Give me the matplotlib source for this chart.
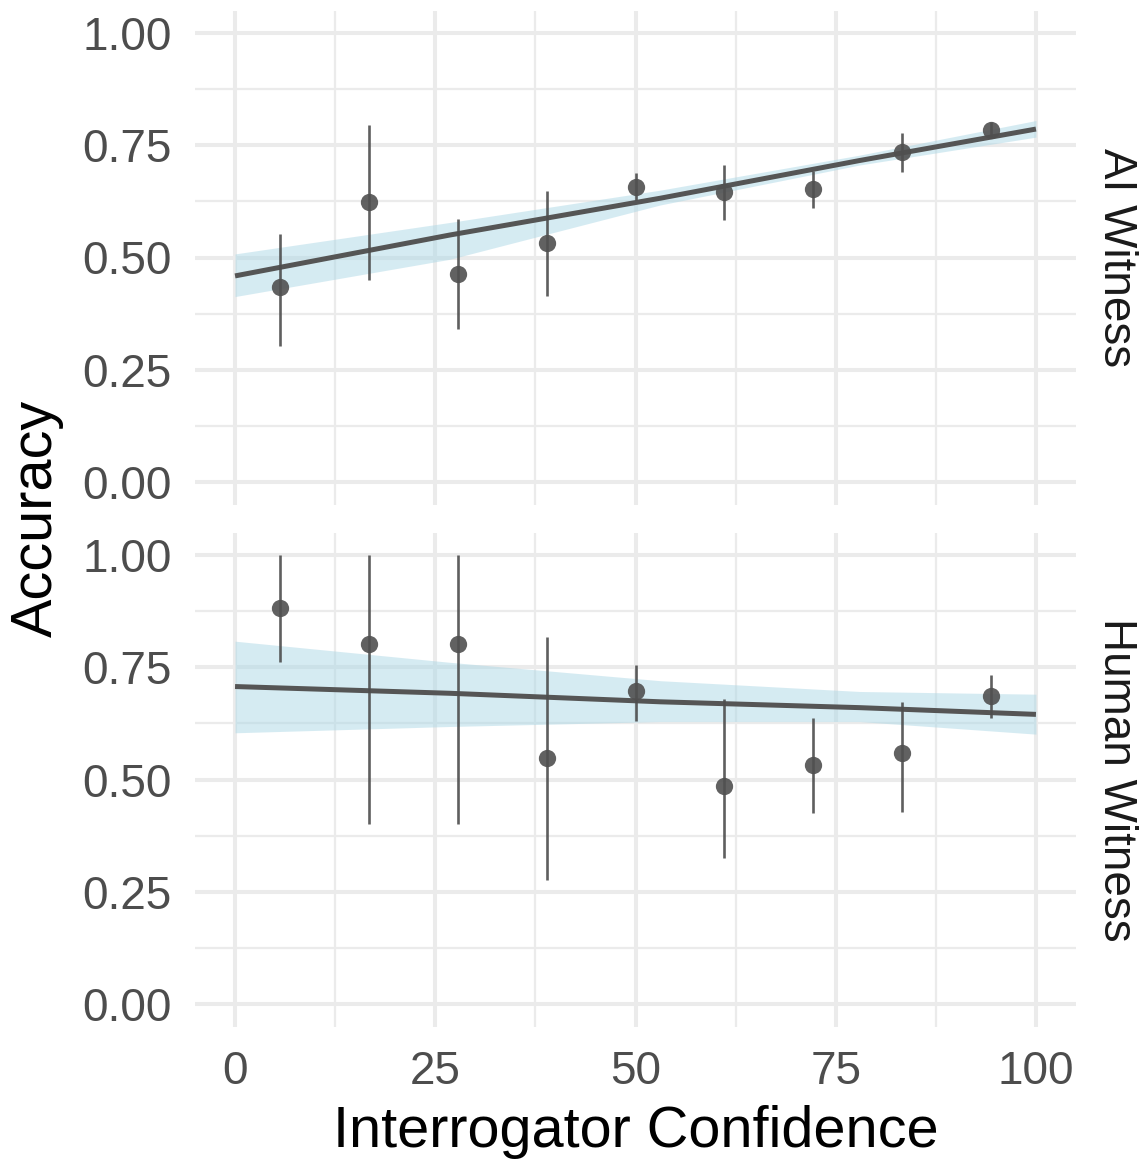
import matplotlib
matplotlib.use("Agg")
import matplotlib.pyplot as plt

plt.rcParams['font.family'] = ['Liberation Sans', 'DejaVu Sans']

# --- data ----------------------------------------------------------------------
conf_bins = [5.56, 16.67, 27.78, 38.89, 50.0, 61.11, 72.22, 83.33, 94.44]

ai_acc = [0.435, 0.623, 0.463, 0.532, 0.656, 0.646, 0.653, 0.736, 0.785]
ai_lo = [0.303, 0.451, 0.341, 0.414, 0.627, 0.583, 0.611, 0.691, 0.769]
ai_hi = [0.552, 0.794, 0.586, 0.649, 0.689, 0.706, 0.693, 0.777, 0.802]

human_acc = [0.881, 0.801, 0.801, 0.547, 0.696, 0.486, 0.532, 0.558, 0.687]
human_lo = [0.762, 0.402, 0.402, 0.276, 0.630, 0.325, 0.426, 0.428, 0.638]
human_hi = [1.0, 1.0, 1.0, 0.818, 0.755, 0.679, 0.636, 0.673, 0.733]

# smooth fit + confidence band, sampled along x
fit_x = [0, 26.8, 53.1, 78, 100]
ai_fit = [0.459, 0.550, 0.632, 0.716, 0.786]
ai_band_lo = [0.413, 0.496, 0.617, 0.706, 0.768]
ai_band_hi = [0.508, 0.578, 0.650, 0.728, 0.805]
human_fit = [0.707, 0.692, 0.673, 0.660, 0.645]
human_band_lo = [0.604, 0.618, 0.629, 0.629, 0.601]
human_band_hi = [0.808, 0.761, 0.720, 0.696, 0.690]

panels = [
    ("AI Witness", ai_acc, ai_lo, ai_hi, ai_fit, ai_band_lo, ai_band_hi),
    ("Human Witness", human_acc, human_lo, human_hi, human_fit, human_band_lo, human_band_hi),
]

# --- figure -------------------------------------------------------------------
W, H = 1145, 1163
fig = plt.figure(figsize=(W / 100, H / 100), dpi=100)

left = 195 / W
width = 881 / W
ph = 494 / H
bottoms = [1 - 504.5 / H, 1 - 1026.5 / H]

grid_col = '#EBEBEB'
pt_col = '#4D4D4D'

for i, (name, acc, lo, hi, fit, blo, bhi) in enumerate(panels):
    ax = fig.add_axes([left, bottoms[i], width, ph])
    ax.set_xlim(-5, 105)
    ax.set_ylim(-0.05, 1.05)

    # grid (ggplot minimal style)
    for v in [0, 25, 50, 75, 100]:
        ax.axvline(v, color=grid_col, lw=2.9, zorder=0)
    for v in [12.5, 37.5, 62.5, 87.5]:
        ax.axvline(v, color=grid_col, lw=1.6, zorder=0)
    for v in [0, 0.25, 0.5, 0.75, 1.0]:
        ax.axhline(v, color=grid_col, lw=2.9, zorder=0)
    for v in [0.125, 0.375, 0.625, 0.875]:
        ax.axhline(v, color=grid_col, lw=1.6, zorder=0)

    ax.fill_between(fit_x, blo, bhi, color='lightblue', alpha=0.5, lw=0, zorder=1)
    ax.plot(fit_x, fit, color='#555555', lw=3.6, zorder=2, solid_capstyle='butt')
    ax.vlines(conf_bins, lo, hi, color=pt_col, lw=1.9, alpha=0.9, zorder=3)
    ax.scatter(conf_bins, acc, s=155, color='#505050', alpha=0.9, lw=0, zorder=4)

    for s in ax.spines.values():
        s.set_visible(False)
    ax.tick_params(length=0, labelsize=33, labelcolor='#4D4D4D', pad=17)
    ax.set_yticks([0, 0.25, 0.5, 0.75, 1.0])
    ax.set_yticklabels(['0.00', '0.25', '0.50', '0.75', '1.00'])
    ax.set_xticks([0, 25, 50, 75, 100])
    if i == 0:
        ax.set_xticklabels([])
    else:
        ax.set_xticklabels(['0', '25', '50', '75', '100'])

    # facet strip label on the right
    ax.text(1.045, 0.5, name, transform=ax.transAxes, rotation=-90,
            ha='center', va='center', fontsize=33, color='#1A1A1A')

fig.text(37 / W, 1 - 518 / H, "Accuracy", rotation=90, ha='center', va='center',
         fontsize=41.5, color='black')
fig.text(636 / W, 1 - 1132 / H, "Interrogator Confidence", ha='center', va='center',
         fontsize=41.5, color='black')

fig.savefig("out.png", dpi=100)
